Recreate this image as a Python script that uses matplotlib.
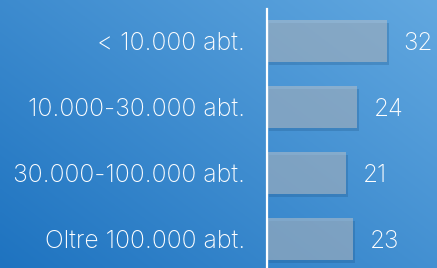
import numpy as np
import matplotlib
matplotlib.use("Agg")
import matplotlib.pyplot as plt
import matplotlib.patheffects as pe

categories = ["< 10.000 abt.", "10.000-30.000 abt.", "30.000-100.000 abt.", "Oltre 100.000 abt."]
values = [32, 24, 21, 23]

plt.rcParams['font.family'] = ['Inter', 'DejaVu Sans']

W, H = 437, 268
fig = plt.figure(figsize=(W / 100, H / 100), dpi=100)

# background gradient, lighter top right, darker bottom left
bg = fig.add_axes([0, 0, 1, 1])
gx, gy = np.meshgrid(np.linspace(0, 1, 200), np.linspace(0, 1, 200))
t = np.clip(0.55 * gx + 0.45 * (1 - gy), 0, 1)[..., None]
dark = np.array([30, 115, 192]) / 255
light = np.array([98, 168, 224]) / 255
bg.imshow(dark + (light - dark) * t, aspect='auto', extent=[0, 1, 0, 1], origin='upper')
bg.axis('off')

ax = fig.add_axes([267 / W, 0, (W - 267) / W, (H - 9) / H])
ax.patch.set_alpha(0)
y = np.arange(len(categories))
bars = ax.barh(y, values, height=0.636, color='#b8c0c8', alpha=0.55, linewidth=0)
for b in bars:
    b.set_path_effects([pe.SimplePatchShadow(offset=(1.5, -2), shadow_rgbFace='#1a4f80', alpha=0.25), pe.Normal()])

for yi, v in zip(y, values):
    ax.annotate(str(v), (v, yi), xytext=(12, -2), textcoords='offset points',
                ha='left', va='center', color='white', fontsize=17.5, fontweight=200)

ax.set_xlim(0, (W - 267) / 3.75)
ax.set_ylim(3.439, -0.485)
ax.set_yticks(y)
ax.set_yticklabels(categories, color='white', fontsize=17.9, fontweight=200)
ax.tick_params(axis='y', length=0, pad=16)
ax.set_xticks([])
for s in ['top', 'right', 'bottom']:
    ax.spines[s].set_visible(False)
ax.spines['left'].set_color('white')
ax.spines['left'].set_linewidth(1.6)

fig.savefig("out.png", dpi=100)
